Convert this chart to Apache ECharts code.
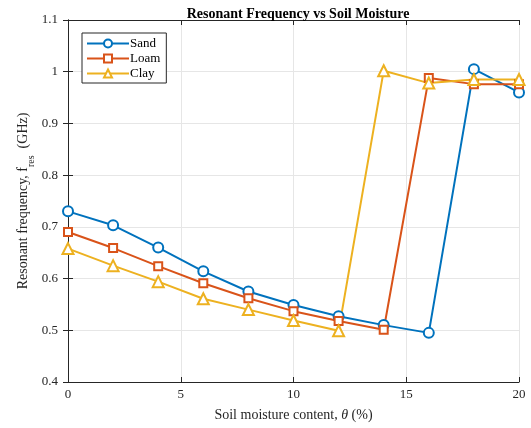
<!DOCTYPE html>
<html><head><meta charset="utf-8">
<script src="https://cdn.jsdelivr.net/npm/echarts@6/dist/echarts.min.js"></script>
<style>html,body{margin:0;padding:0;background:#fff}#c{width:531px;height:428px}</style>
</head><body><div id="c"></div>
<script>
const moisture = [0, 2, 4, 6, 8, 10, 12, 14, 16, 18, 20];
const sand = [0.730, 0.703, 0.660, 0.614, 0.575, 0.549, 0.527, 0.510, 0.495, 1.005, 0.960];
const loam = [0.690, 0.659, 0.624, 0.591, 0.562, 0.537, 0.518, 0.501, 0.988, 0.976, 0.976];
const clay = [0.658, 0.625, 0.594, 0.561, 0.540, 0.519, 0.499, 1.002, 0.978, 0.985, 0.985];
const seriesNames = ['Sand', 'Loam', 'Clay'];

const font = '"Liberation Serif", "Times New Roman", serif';
const chart = echarts.init(document.getElementById('c'));
function mk(name, data, color, symbol, size) {
  return {
    name, type: 'line', data: moisture.map((x, i) => [x, data[i]]),
    symbol, symbolSize: size, showAllSymbol: true,
    lineStyle: { color, width: 2 },
    itemStyle: { color, borderColor: color, borderWidth: 2 },
    emphasis: { disabled: true }, z: 3
  };
}
const axisCommon = {
  axisLine: { show: true, lineStyle: { color: '#262626', width: 1 } },
  axisTick: { show: true, inside: true, length: 5, lineStyle: { color: '#262626' } },
};
chart.setOption({
  animation: false,
  backgroundColor: '#fff',
  title: {
    text: 'Resonant Frequency vs Soil Moisture', left: 293, top: 2, textAlign: 'center',
    textStyle: { fontFamily: font, fontWeight: 'bold', fontSize: 14, color: '#000' }
  },
  legend: {
    orient: 'vertical', left: 82, top: 33, padding: [4, 6, 3, 4], itemGap: 2,
    itemWidth: 42, itemHeight: 10,
    backgroundColor: '#fff', borderColor: '#262626', borderWidth: 1, borderRadius: 0,
    textStyle: { fontFamily: font, fontSize: 13, color: '#000', padding: [0, 0, 0, -4] },
    data: seriesNames
  },
  grid: { left: 68, right: 12, top: 20, bottom: 46, containLabel: false },
  xAxis: [{
    type: 'value', min: 0, max: 20, interval: 5, ...axisCommon,
    name: 'Soil moisture content, {i|θ} (%)', nameLocation: 'middle', nameGap: 26,
    nameTextStyle: { fontFamily: font, fontSize: 14, color: '#262626', rich: { i: { fontFamily: font, fontStyle: 'italic', fontSize: 14, color: '#262626' } } },
    axisLabel: { fontFamily: font, fontSize: 13, color: '#262626', margin: 6 },
    splitLine: { show: true, lineStyle: { color: '#e6e6e6', width: 1 } }
  }, {
    type: 'value', min: 0, max: 20, interval: 5, position: 'top', ...axisCommon,
    axisLabel: { show: false }, splitLine: { show: false }
  }],
  yAxis: [{
    type: 'value', min: 0.4, max: 1.1, interval: 0.1, ...axisCommon,
    name: 'Resonant frequency, f{s|res}  (GHz)', nameLocation: 'middle', nameGap: 38, nameRotate: 90,
    nameMoveOverlap: false,
    nameTextStyle: { fontFamily: font, fontSize: 14, color: '#262626', rich: { s: { fontFamily: font, fontSize: 10, color: '#262626', verticalAlign: 'bottom', padding: [0, 0, -6, 0] } } },
    axisLabel: { fontFamily: font, fontSize: 13, color: '#262626', margin: 10 },
    splitLine: { show: true, lineStyle: { color: '#e6e6e6', width: 1 } }
  }, {
    type: 'value', min: 0.4, max: 1.1, interval: 0.1, position: 'right', ...axisCommon,
    axisLabel: { show: false }, splitLine: { show: false }
  }],
  series: [
    mk('Sand', sand, '#0072BD', 'emptyCircle', 10),
    mk('Loam', loam, '#D95319', 'emptyRect', 8),
    mk('Clay', clay, '#EDB120', 'emptyTriangle', 11)
  ]
});
</script></body></html>
